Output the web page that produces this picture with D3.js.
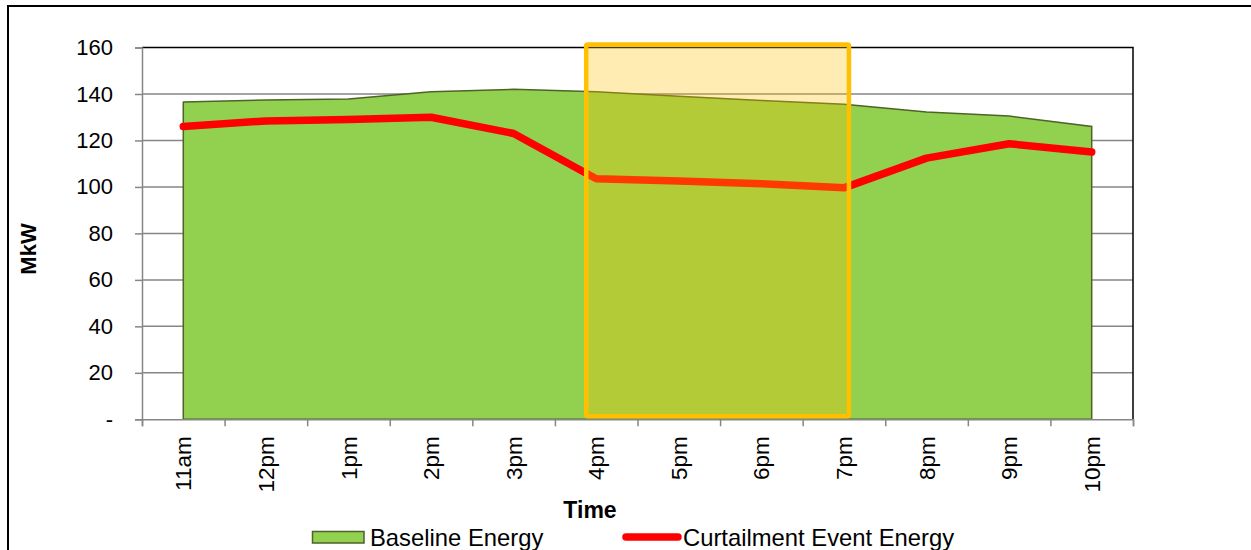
<!DOCTYPE html>
<html>
<head>
<meta charset="utf-8">
<script src="https://cdn.jsdelivr.net/npm/d3@7"></script>
<style>
  html, body { margin: 0; padding: 0; background: #fff; }
  svg { display: block; font-family: "Liberation Sans", Arial, sans-serif; }
</style>
</head>
<body>
<svg id="chart" width="1251" height="550"></svg>
<script>
// ---- Data ----
const categories = ["11am", "12pm", "1pm", "2pm", "3pm", "4pm", "5pm", "6pm", "7pm", "8pm", "9pm", "10pm"];
const baselineEnergy = [136.5, 137.4, 137.8, 141.0, 142.0, 141.0, 139.0, 137.2, 135.6, 132.2, 130.5, 126.0];
const curtailmentEnergy = [126.0, 128.4, 129.0, 130.0, 123.0, 103.5, 102.5, 101.4, 99.6, 112.4, 118.6, 115.0];
const yTicks = [0, 20, 40, 60, 80, 100, 120, 140, 160];
const eventWindow = ["4pm", "7pm"];
const seriesNames = ["Baseline Energy", "Curtailment Event Energy"];

// ---- Layout ----
const svg = d3.select("#chart");
const plot = { left: 142, right: 1133, top: 47.5, bottom: 419.3 };
const font = 22;

svg.append("rect").attr("x", 8).attr("y", 6).attr("width", 1400).attr("height", 700)
  .attr("fill", "none").attr("stroke", "#000").attr("stroke-width", 2);

const x = d3.scaleBand().domain(categories).range([plot.left, plot.right]).padding(0);
const xc = d => x(d) + x.bandwidth() / 2;
const xEdge = d3.scaleLinear().domain([0, categories.length]).range([plot.left, plot.right]);
const y = d3.scaleLinear().domain([0, 160]).range([plot.bottom, plot.top]);

// gridlines
svg.append("g").selectAll("line").data(yTicks.filter(t => t > 0 && t < 160)).join("line")
  .attr("x1", plot.left).attr("x2", plot.right)
  .attr("y1", d => y(d)).attr("y2", d => y(d))
  .attr("stroke", "#868686").attr("stroke-width", 1.5);

// plot border top/right
svg.append("path")
  .attr("d", `M${plot.left},${y(160)}H${plot.right}V${plot.bottom}`)
  .attr("fill", "none").attr("stroke", "#000").attr("stroke-width", 1.5);

// baseline area
const areaData = categories.map((c, i) => ({ c, v: baselineEnergy[i] }));
svg.append("path").datum(areaData)
  .attr("d", d3.area().x(d => xc(d.c)).y0(y(0)).y1(d => y(d.v)))
  .attr("fill", "#92D050").attr("stroke", "#4F6228").attr("stroke-width", 1.5);

// curtailment line
const lineData = categories.map((c, i) => ({ c, v: curtailmentEnergy[i] }));
svg.append("path").datum(lineData)
  .attr("d", d3.line().x(d => xc(d.c)).y(d => y(d.v)))
  .attr("fill", "none").attr("stroke", "#FF0000").attr("stroke-width", 7.5)
  .attr("stroke-linejoin", "round").attr("stroke-linecap", "round");

// y axis
const yAxis = svg.append("g").attr("transform", `translate(${plot.left},0)`)
  .call(d3.axisLeft(y).tickValues(yTicks).tickSize(7).tickPadding(22)
    .tickFormat(d => d === 0 ? "-" : d));
yAxis.select(".domain").attr("stroke", "#868686").attr("stroke-width", 1.5);
yAxis.selectAll(".tick line").attr("stroke", "#868686").attr("stroke-width", 1.5);
yAxis.selectAll(".tick text").attr("font-size", font).attr("fill", "#000")
  .attr("font-family", "'Liberation Sans', Arial, sans-serif");

// x axis boundary ticks
const xTickAxis = svg.append("g").attr("transform", `translate(0,${plot.bottom})`)
  .call(d3.axisBottom(xEdge).tickValues(d3.range(categories.length + 1)).tickSize(7).tickFormat(""));
xTickAxis.select(".domain").attr("stroke", "#868686").attr("stroke-width", 1.5);
xTickAxis.selectAll(".tick line").attr("stroke", "#868686").attr("stroke-width", 1.5);

// x labels
const xAxis = svg.append("g").attr("transform", `translate(0,${plot.bottom})`)
  .call(d3.axisBottom(x).tickSize(0));
xAxis.select(".domain").remove();
xAxis.selectAll(".tick text")
  .attr("transform", "rotate(-90)")
  .attr("text-anchor", "end")
  .attr("x", -17).attr("y", 0).attr("dy", "0.36em")
  .attr("font-size", 22.5).attr("fill", "#000")
  .attr("font-family", "'Liberation Sans', Arial, sans-serif");

// event window rectangle
const rx0 = xc(eventWindow[0]) - 10;
const rx1 = xc(eventWindow[1]) + 5;
svg.append("rect")
  .attr("x", rx0).attr("y", y(160) - 3)
  .attr("width", rx1 - rx0).attr("height", y(0) - 3 - (y(160) - 3))
  .attr("rx", 1.5)
  .attr("fill", "#FFC000").attr("fill-opacity", 0.3)
  .attr("stroke", "#FFC000").attr("stroke-width", 4.5);

// axis titles
svg.append("text").attr("x", 590).attr("y", 518).attr("text-anchor", "middle")
  .attr("font-size", 23).attr("font-weight", "bold").text("Time");
svg.append("text").attr("transform", `translate(36,249) rotate(-90)`).attr("text-anchor", "middle")
  .attr("font-size", font).attr("font-weight", "bold").text("MkW");

// legend
const lg = svg.append("g");
lg.append("rect").attr("x", 312.5).attr("y", 531.5).attr("width", 51.5).attr("height", 11.5)
  .attr("fill", "#92D050").attr("stroke", "#4F6228").attr("stroke-width", 1.5);
lg.append("text").attr("x", 370).attr("y", 545.5).attr("font-size", 23.8).text(seriesNames[0]);
lg.append("line").attr("x1", 626).attr("x2", 678).attr("y1", 537).attr("y2", 537)
  .attr("stroke", "#FF0000").attr("stroke-width", 7.5).attr("stroke-linecap", "round");
lg.append("text").attr("x", 683).attr("y", 545.5).attr("font-size", 23.8).text(seriesNames[1]);
</script>
</body>
</html>
